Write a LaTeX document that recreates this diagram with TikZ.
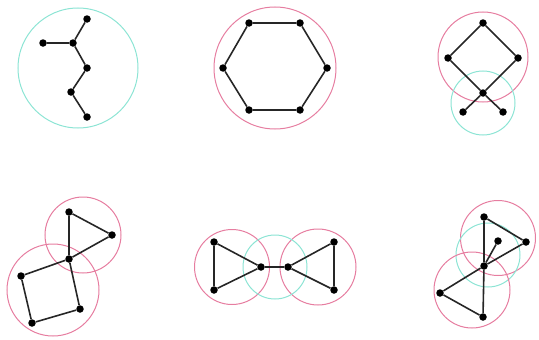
\documentclass[tikz,border=0pt]{standalone}
\usepackage{tikz}
\definecolor{ringcyan}{RGB}{140,228,212}
\definecolor{ringpink}{RGB}{230,125,160}
\tikzset{
  dot/.style={circle,fill=black,inner sep=0pt,minimum size=7.5pt},
  edge/.style={line width=1.6pt,black!85},
  cring/.style={ringcyan,line width=1pt},
  pring/.style={ringpink,line width=1pt}
}
\begin{document}
\begin{tikzpicture}[x=1pt,y=-1pt]
\useasboundingbox (0,0) rectangle (539,340);
% tree
\draw[cring] (78,68) circle (60);
\node[dot] (t1) at (87,19) {};
\node[dot] (t2) at (43,43) {};
\node[dot] (t3) at (73,43) {};
\node[dot] (t4) at (87,68) {};
\node[dot] (t5) at (71,92) {};
\node[dot] (t6) at (87,117) {};
\draw[edge] (t2) -- (t3) -- (t1);
\draw[edge] (t3) -- (t4) -- (t5) -- (t6);
% hexagon
\draw[pring] (275,68) circle (61);
\node[dot] (h1) at (249,23) {};
\node[dot] (h2) at (300,23) {};
\node[dot] (h3) at (327,68) {};
\node[dot] (h4) at (300,110) {};
\node[dot] (h5) at (249,110) {};
\node[dot] (h6) at (223,68) {};
\draw[edge] (h1) -- (h2) -- (h3) -- (h4) -- (h5) -- (h6) -- (h1);
% square with two legs
\draw[pring] (483,57) circle (45);
\draw[cring] (483,103) circle (32);
\node[dot] (s1) at (483,23) {};
\node[dot] (s2) at (448,58) {};
\node[dot] (s3) at (518,58) {};
\node[dot] (s4) at (483,93) {};
\node[dot] (s5) at (463,112) {};
\node[dot] (s6) at (503,112) {};
\draw[edge] (s1) -- (s2) -- (s4) -- (s6);
\draw[edge] (s1) -- (s3) -- (s4) -- (s5);
% triangle on square
\draw[pring] (83,235) circle (38);
\draw[pring] (53,290) circle (46);
\node[dot] (q1) at (69,212) {};
\node[dot] (q2) at (112,235) {};
\node[dot] (q3) at (69,259) {};
\node[dot] (q4) at (21,276) {};
\node[dot] (q5) at (32,323) {};
\node[dot] (q6) at (80,309) {};
\draw[edge] (q1) -- (q2) -- (q3) -- (q1);
\draw[edge] (q3) -- (q4) -- (q5) -- (q6) -- (q3);
% two triangles joined
\draw[pring] (232,267) circle (37.5);
\draw[pring] (318,267) circle (38);
\draw[cring] (275,267) circle (32);
\node[dot] (b1) at (214,242) {};
\node[dot] (b2) at (214,290) {};
\node[dot] (b3) at (261,267) {};
\node[dot] (b4) at (288,267) {};
\node[dot] (b5) at (334,242) {};
\node[dot] (b6) at (334,290) {};
\draw[edge] (b1) -- (b2) -- (b3) -- (b1);
\draw[edge] (b3) -- (b4);
\draw[edge] (b4) -- (b5) -- (b6) -- (b4);
% crossed triangles
\draw[pring] (498,238) circle (37.5);
\draw[cring] (488,255) circle (32);
\draw[pring] (472,290) circle (38);
\node[dot] (c1) at (484,217) {};
\node[dot] (c2) at (526,242) {};
\node[dot] (c3) at (498,241) {};
\node[dot] (c4) at (484,266) {};
\node[dot] (c5) at (440,293) {};
\node[dot] (c6) at (483,317) {};
\draw[edge] (c1) -- (c2) -- (c4) -- (c1);
\draw[edge] (c4) -- (c5) -- (c6) -- (c4);
\draw[edge] (c4) -- (c3);
\end{tikzpicture}
\end{document}
